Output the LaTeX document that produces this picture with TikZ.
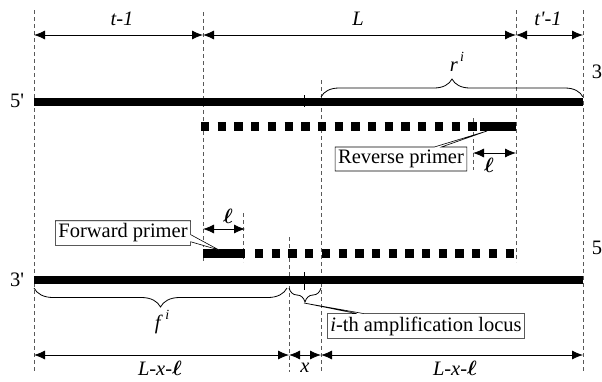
\documentclass[tikz,border=0pt]{standalone}
\usepackage{fontspec}
\setmainfont{Liberation Serif}
\usepackage{bm}
\usetikzlibrary{arrows.meta, positioning, calc, shapes.callouts, decorations.pathreplacing}

\newcommand{\plen}{{\fontsize{22}{24}\selectfont$\bm{\ell}$}}
\newcommand{\pr}{\textquotesingle}
\newcommand{\supi}{\raisebox{0.5em}{\fontsize{14}{14}\selectfont\,\textit{i}}}

\begin{document}
\begin{tikzpicture}[
        x=1pt, y=-1pt,
        guide/.style={draw=black!65, dash pattern=on 4pt off 3pt, line width=0.8pt},
        strand/.style={line width=7.5pt},
        dotstrand/.style={line width=9pt, dash pattern=on 8.3pt off 8.4pt},
        primer/.style={line width=9pt},
        span/.style={{Latex[length=11pt,width=9pt]}-{Latex[length=11pt,width=9pt]}, line width=0.8pt},
        lab/.style={font=\fontsize{20.5}{22}\selectfont, inner sep=1pt},
        brace/.style={decorate, decoration={brace, amplitude=#1}, line width=0.8pt},
        note/.style={rectangle callout, draw, fill=white, line width=0.6pt, inner sep=3pt, font=\fontsize{20.5}{22}\selectfont}
    ]
        \useasboundingbox (0,0) rectangle (602,381);

        % Guide lines
        \draw[guide] (34,10) -- (34,372);
        \draw[guide] (203,12) -- (203,262);
        \draw[guide] (516,10) -- (516,262);
        \draw[guide] (583,10) -- (583,372);
        \draw[guide] (321,80) -- (321,372);
        \draw[guide] (289,237) -- (289,372);
        \draw[guide] (243,213) -- (243,262);
        \draw[guide] (473,118) -- (473,170);

        % Anchor points
        \coordinate (t0) at (34,35);
        \coordinate (t1) at (203,35);
        \coordinate (t2) at (516,35);
        \coordinate (t3) at (583,35);
        \coordinate (b0) at (34,355);
        \coordinate (b1) at (289,355);
        \coordinate (b2) at (321,355);
        \coordinate (b3) at (583,355);

        % Top spans
        \draw[span] (t0) -- (t1);
        \draw[span] (t1) -- (t2);
        \draw[span] (t2) -- (t3);
        \node[lab] (lt) at (122,19) {\textit{t-1}};
        \node[lab] (lL) at (358,19) {\textit{L}};
        \node[lab] (ltp) at (548,19) {\textit{t\pr-1}};

        % Upper strand 5' -> 3
        \coordinate (u0) at (34,102);
        \coordinate (u1) at (583,102);
        \draw[strand] (u0) -- (u1);
        \node[lab] (u5) at (17,101) {5\pr};
        \node[lab] (u3) at (597,72) {3};
        \draw[line width=0.8pt] (304,95) -- (304,107);
        \draw[brace=18pt] (321,97) -- (583,97);
        \node[lab] (lr) at (457,62) {\textit{r}\supi};

        % Reverse strand with primer
        \coordinate (r0) at (201,126);
        \coordinate (r1) at (478,126);
        \coordinate (r2) at (480,126);
        \coordinate (r3) at (516,126);
        \draw[dotstrand] (r0) -- (r1);
        \draw[primer] (r2) -- (r3);
        \coordinate (rtip) at (487,131);
        \node[note, callout absolute pointer={(rtip)}] (rp) at (401,159) {Reverse primer};
        \coordinate (rl0) at (473,153);
        \coordinate (rl1) at (516,153);
        \draw[span] (rl0) -- (rl1);
        \node[lab] (rl) at (489,165) {\plen};

        % Forward strand with primer
        \coordinate (f0) at (203,253);
        \coordinate (f1) at (245,253);
        \coordinate (f2) at (255,253);
        \coordinate (f3) at (516,253);
        \draw[primer] (f0) -- (f1);
        \draw[dotstrand] (f2) -- (f3);
        \coordinate (ftip) at (219,250);
        \node[note, callout absolute pointer={(ftip)}] (fp) at (123,233) {Forward primer};
        \coordinate (fl0) at (203,229);
        \coordinate (fl1) at (245,229);
        \draw[span] (fl0) -- (fl1);
        \node[lab] (fl) at (228,216) {\plen};

        % Lower strand 3' -> 5
        \coordinate (d0) at (34,280);
        \coordinate (d1) at (583,280);
        \draw[strand] (d0) -- (d1);
        \node[lab] (d3) at (17,280) {3\pr};
        \node[lab] (d5) at (597,248) {5};
        \draw[line width=0.8pt] (304,272) -- (304,290);
        \draw[brace=19pt] (287,288) -- (34,288);
        \node[lab] (lf) at (162,322) {\textit{f}\supi};
        \draw[brace=14pt] (321,288) -- (289,288);
        \coordinate (atip) at (304,303);
        \node[note, callout absolute pointer={(atip)}] (al) at (426,326) {\textit{i}-th amplification locus};

        % Bottom spans
        \draw[span] (b0) -- (b1);
        \draw[span] (b1) -- (b2);
        \draw[span] (b2) -- (b3);
        \node[lab] (lb1) at (160,368) {\textit{L-x-}\plen};
        \node[lab] (lx) at (305,368) {\textit{x}};
        \node[lab] (lb2) at (455,368) {\textit{L-x-}\plen};
    \end{tikzpicture}
\end{document}
